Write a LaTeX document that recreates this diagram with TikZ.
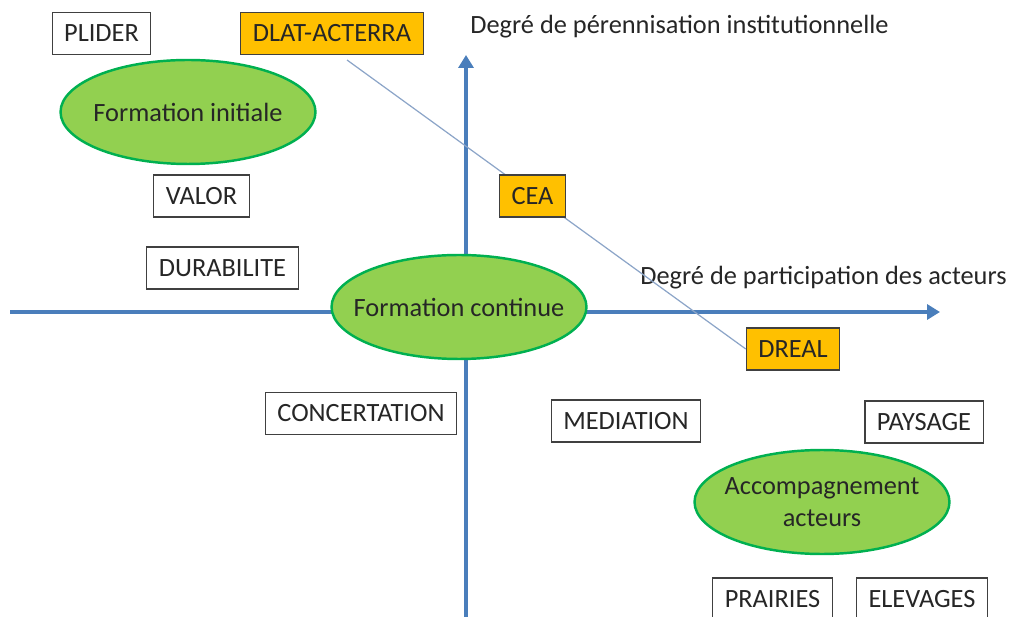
\documentclass[tikz,border=0pt]{standalone}
\usepackage{fontspec}
\setmainfont{Carlito}
\usetikzlibrary{shapes.geometric,arrows.meta}
\definecolor{axisblue}{RGB}{74,126,187}
\definecolor{linkblue}{RGB}{140,165,200}
\definecolor{ovalgreen}{RGB}{146,208,80}
\definecolor{ovalborder}{RGB}{0,176,80}
\definecolor{orgorange}{RGB}{255,192,0}
\tikzset{
  projbox/.style={draw=black!75,fill=white,line width=0.6pt,minimum height=0.84cm,inner xsep=0.24cm,font=\fontsize{15}{18}\selectfont,text=black!85},
  orgbox/.style={projbox,fill=orgorange},
  oval/.style={ellipse,draw=ovalborder,fill=ovalgreen,line width=1.4pt,minimum width=5.1cm,minimum height=2.08cm,inner xsep=-0.6cm,inner ysep=0pt,align=center,font=\fontsize{15}{18}\selectfont,text=black!85},
  axis/.style={axisblue,line width=2.2pt,-{Triangle[width=0.3cm,length=0.26cm]}},
  axislabel/.style={anchor=west,inner sep=0pt,font=\fontsize{15}{18}\selectfont,text=black!85}
}
\begin{document}
\begin{tikzpicture}[x=0.02cm,y=-0.02cm]
    \useasboundingbox (0,0) rectangle (1016,617);
    \clip (0,0) rectangle (1016,617);
    % axes
    \coordinate (xstart) at (10,312);
    \coordinate (xend) at (940,312);
    \coordinate (ystart) at (466,640);
    \coordinate (yend) at (466,55);
    \draw[axis] (xstart) -- (xend);
    \draw[axis] (ystart) -- (yend);
    \node[axislabel] (ylabel) at (470,27) {Degré de pérennisation institutionnelle};
    \node[axislabel] (xlabel) at (640,278) {Degré de participation des acteurs};
    % institutions
    \node[orgbox] (dlat) at (332,33.5) {DLAT-ACTERRA};
    \node[orgbox] (dreal) at (793,349) {DREAL};
    \coordinate (lstart) at (347,60);
    \draw[linkblue,line width=0.7pt] (lstart) -- (dreal.west);
    \node[orgbox] (cea) at (532.5,196) {CEA};
    % projects
    \node[projbox] (plider) at (101.5,33.5) {PLIDER};
    \node[projbox] (valor) at (201.5,196) {VALOR};
    \node[projbox] (durab) at (222.5,268) {DURABILITE};
    \node[projbox] (concert) at (361,413.5) {CONCERTATION};
    \node[projbox] (media) at (626,421) {MEDIATION};
    \node[projbox] (paysage) at (924,422) {PAYSAGE};
    \node[projbox] (prairies) at (772.5,599) {PRAIRIES};
    \node[projbox] (elevages) at (922,599) {ELEVAGES};
    % types of training
    \node[oval] (finit) at (188,112) {Formation initiale};
    \node[oval] (fcont) at (459,307) {Formation continue};
    \node[oval] (accomp) at (822,502) {Accompagnement\\acteurs};
\end{tikzpicture}
\end{document}
